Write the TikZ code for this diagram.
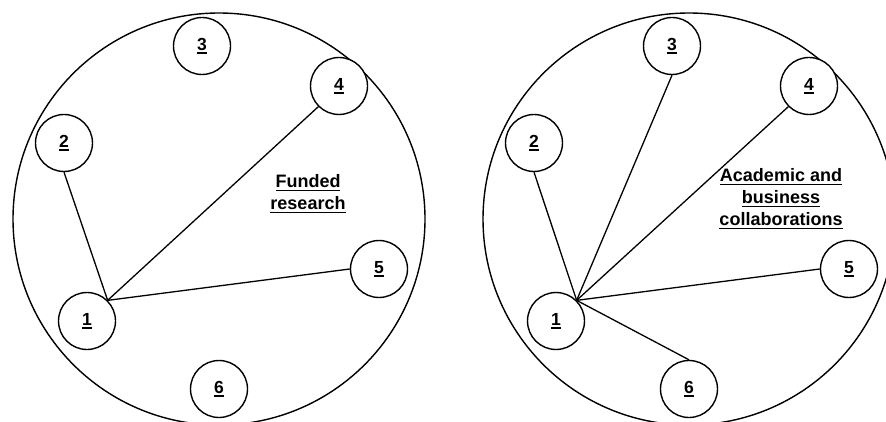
\documentclass[tikz,border=0pt]{standalone}
\usepackage{fontspec}
\setmainfont{Liberation Sans}
\newcommand\myul[1]{\setbox0\hbox{#1}\rlap{\rule[-3.2pt]{\wd0}{1.4pt}}\box0}
\tikzset{
  big/.style={draw, line width=1.4pt},
  member/.style={circle, draw, fill=white, line width=1.4pt, minimum size=57pt, inner sep=0pt, font=\fontsize{17.5}{20}\selectfont\bfseries},
  link/.style={line width=1.3pt},
  label/.style={align=center, font=\fontsize{18}{22}\selectfont\bfseries}
}
\begin{document}
\begin{tikzpicture}[x=1pt,y=-1pt]
\useasboundingbox (0,0) rectangle (886,422);
% left panel
\draw[big] (219,219) circle (206);
\node[member] (a3) at (202,46) {\myul{3}};
\node[member] (a4) at (339,86) {\myul{4}};
\node[member] (a2) at (64,143) {\myul{2}};
\node[member] (a1) at (87,321) {\myul{1}};
\node[member] (a5) at (379,269) {\myul{5}};
\node[member] (a6) at (219,389) {\myul{6}};
\node[label] (atext) at (308,194) {\myul{Funded}\\\myul{research}};
\draw[link] (a1.north east) -- (a2.south);
\draw[link] (a1.north east) -- (a4.south west);
\draw[link] (a1.north east) -- (a5.west);
% right panel
\draw[big] (689,219) circle (206);
\node[member] (b3) at (672,46) {\myul{3}};
\node[member] (b4) at (809,86) {\myul{4}};
\node[member] (b2) at (534,143) {\myul{2}};
\node[member] (b1) at (556,321) {\myul{1}};
\node[member] (b5) at (849,269) {\myul{5}};
\node[member] (b6) at (689,389) {\myul{6}};
\node[label] (btext) at (781,199) {\myul{Academic and}\\\myul{business}\\\myul{collaborations}};
\draw[link] (b1.north east) -- (b2.south);
\draw[link] (b1.north east) -- (b3.south);
\draw[link] (b1.north east) -- (b4.south west);
\draw[link] (b1.north east) -- (b5.west);
\draw[link] (b1.north east) -- (b6.north);
\end{tikzpicture}
\end{document}
